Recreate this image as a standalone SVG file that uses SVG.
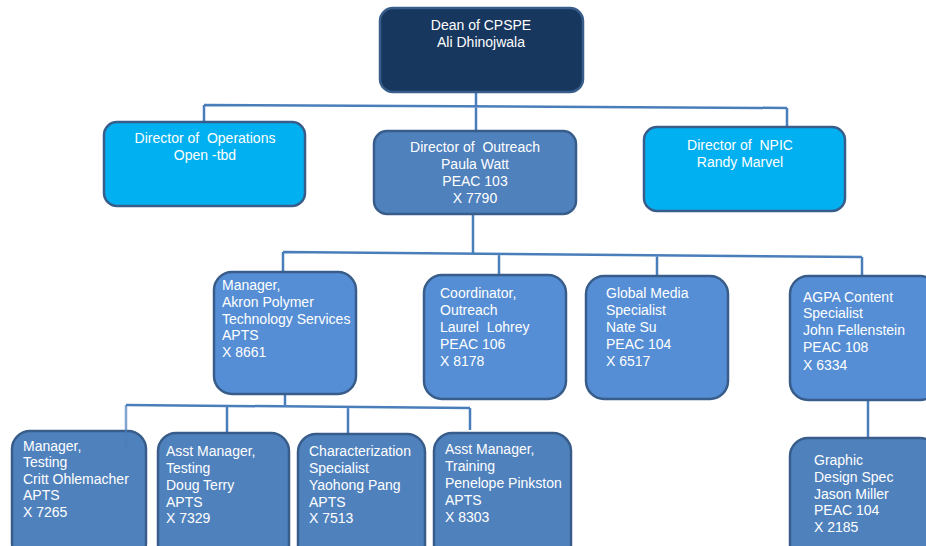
<svg xmlns="http://www.w3.org/2000/svg" width="926" height="546" viewBox="0 0 926 546">
<style>
.box{stroke:#385d8a;stroke-width:2.5}
.navy{fill:#17375e}
.cyan{fill:#00b0f0}
.mid{fill:#4f81bd}
.lt{fill:#558ed5}
text{font-family:"Liberation Sans",Arial,sans-serif;font-size:14px;fill:#ffffff}
.c{text-anchor:middle}
.conn{fill:none;stroke:#4a7ebb;stroke-width:2.5}
</style>
<rect width="926" height="546" fill="#ffffff"/>
<g id="connectors" class="conn">
<path d="M476,92 V131 M204,105 L787,108 M204,105 V122 M787,108 V127"/>
<path d="M473,214 V253 M283,252 L862,257 M283,252 V272 M499,253.5 V275 M657,255 V276 M862,257 V276"/>
<path d="M285,394 V405 M126,405 L470,408 M227,406 V433 M348,407 V434 M470,408 V430"/>
<path d="M868,400 V438"/>
</g>
<g id="dean">
<rect class="box navy" x="380" y="8" width="203" height="84" rx="13"/>
<text class="c" x="481" y="30">Dean of CPSPE</text>
<text class="c" x="481" y="47">Ali Dhinojwala</text>
</g>
<g id="dir-operations">
<rect class="box cyan" x="104" y="122" width="201" height="84" rx="13"/>
<text class="c" x="205" y="143" xml:space="preserve">Director of  Operations</text>
<text class="c" x="205" y="160">Open -tbd</text>
</g>
<g id="dir-outreach">
<rect class="box mid" x="374" y="131" width="202" height="83" rx="13"/>
<text class="c" x="475" y="152" xml:space="preserve">Director of  Outreach</text>
<text class="c" x="475" y="169">Paula Watt</text>
<text class="c" x="475" y="186">PEAC 103</text>
<text class="c" x="475" y="203">X 7790</text>
</g>
<g id="dir-npic">
<rect class="box cyan" x="644" y="127" width="201" height="84" rx="13"/>
<text class="c" x="740" y="150" xml:space="preserve">Director of  NPIC</text>
<text class="c" x="740" y="167">Randy Marvel</text>
</g>
<g id="mgr-apts">
<rect class="box lt" x="214" y="272" width="142" height="122" rx="18"/>
<text x="222" y="290">Manager,</text>
<text x="222" y="307">Akron Polymer</text>
<text x="222" y="324">Technology Services</text>
<text x="222" y="340">APTS</text>
<text x="222" y="357">X 8661</text>
</g>
<g id="coordinator">
<rect class="box lt" x="424" y="275" width="142" height="124" rx="18"/>
<text x="440" y="298">Coordinator,</text>
<text x="440" y="315">Outreach</text>
<text x="440" y="332" xml:space="preserve">Laurel  Lohrey</text>
<text x="440" y="349">PEAC 106</text>
<text x="440" y="366">X 8178</text>
</g>
<g id="global-media">
<rect class="box lt" x="586" y="276" width="142" height="123" rx="18"/>
<text x="606" y="298">Global Media</text>
<text x="606" y="315">Specialist</text>
<text x="606" y="332">Nate Su</text>
<text x="606" y="349">PEAC 104</text>
<text x="606" y="366">X 6517</text>
</g>
<g id="agpa">
<rect class="box lt" x="790" y="276" width="148" height="124" rx="18"/>
<text x="803" y="302">AGPA Content</text>
<text x="803" y="318">Specialist</text>
<text x="803" y="335">John Fellenstein</text>
<text x="803" y="352">PEAC 108</text>
<text x="803" y="370">X 6334</text>
</g>
<g id="mgr-testing">
<rect class="box mid" x="12" y="431" width="134" height="130" rx="18"/>
<path class="conn" d="M126,405 V448" stroke-opacity="0.7"/>
<text x="23" y="451">Manager,</text>
<text x="23" y="467">Testing</text>
<text x="23" y="484">Critt Ohlemacher</text>
<text x="23" y="500">APTS</text>
<text x="23" y="517">X 7265</text>
</g>
<g id="asst-testing">
<rect class="box mid" x="158" y="433" width="131" height="130" rx="18"/>
<text x="166" y="456">Asst Manager,</text>
<text x="166" y="473">Testing</text>
<text x="166" y="490">Doug Terry</text>
<text x="166" y="507">APTS</text>
<text x="166" y="523">X 7329</text>
</g>
<g id="characterization">
<rect class="box mid" x="298" y="434" width="127" height="130" rx="18"/>
<text x="309" y="456">Characterization</text>
<text x="309" y="473">Specialist</text>
<text x="309" y="490">Yaohong Pang</text>
<text x="309" y="507">APTS</text>
<text x="309" y="523">X 7513</text>
</g>
<g id="asst-training">
<rect class="box mid" x="434" y="433" width="137" height="130" rx="18"/>
<text x="445" y="454">Asst Manager,</text>
<text x="445" y="471">Training</text>
<text x="445" y="488">Penelope Pinkston</text>
<text x="445" y="505">APTS</text>
<text x="445" y="522">X 8303</text>
</g>
<g id="graphic">
<rect class="box mid" x="790" y="438" width="148" height="130" rx="18"/>
<text x="814" y="465">Graphic</text>
<text x="814" y="482">Design Spec</text>
<text x="814" y="499">Jason Miller</text>
<text x="814" y="515">PEAC 104</text>
<text x="814" y="532">X 2185</text>
</g>
</svg>
